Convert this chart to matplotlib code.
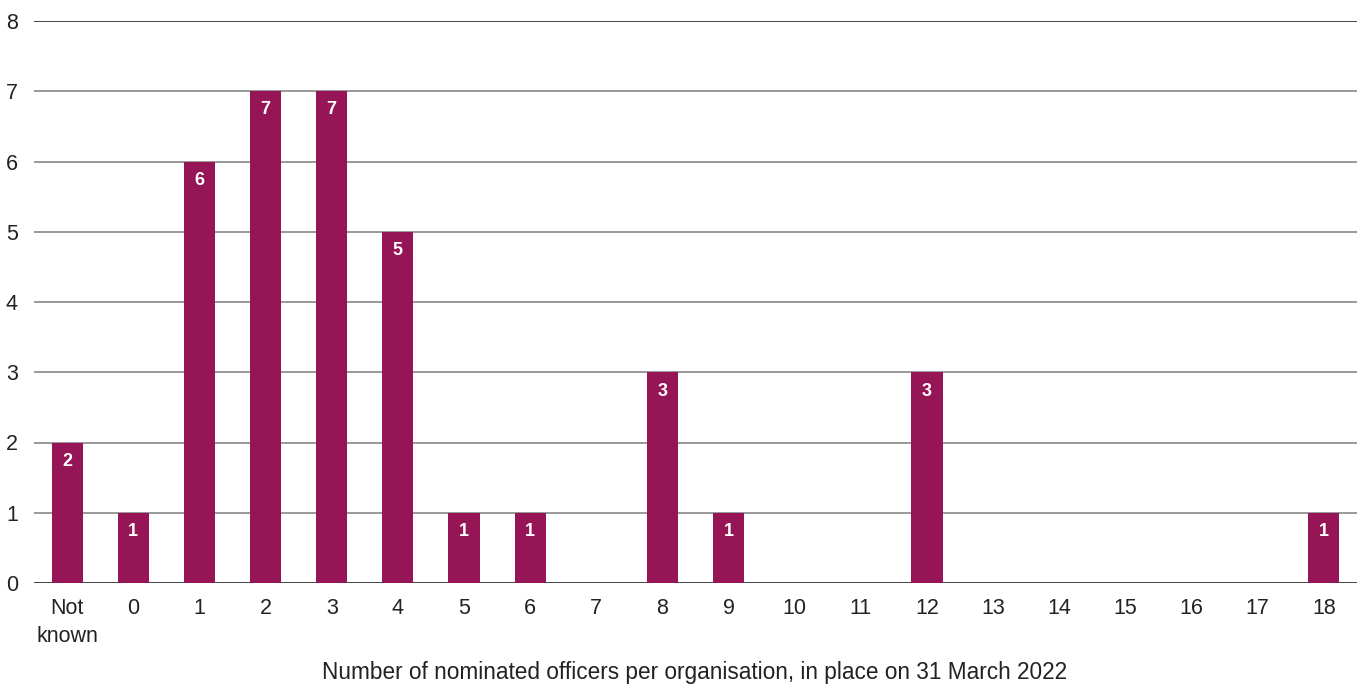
import matplotlib
matplotlib.use("Agg")
import matplotlib.pyplot as plt

categories = ["Not\nknown", "0", "1", "2", "3", "4", "5", "6", "7", "8", "9",
              "10", "11", "12", "13", "14", "15", "16", "17", "18"]
counts = [2, 1, 6, 7, 7, 5, 1, 1, 0, 3, 1, 0, 0, 3, 0, 0, 0, 0, 0, 1]
y_ticks = [0, 1, 2, 3, 4, 5, 6, 7, 8]
x_title = "Number of nominated officers per organisation, in place on 31 March 2022"

bar_color = "#961556"
text_color = "#222222"

plt.rcParams["font.family"] = ["Liberation Sans", "DejaVu Sans"]

fig = plt.figure(figsize=(13.62, 6.84), dpi=100)
ax = fig.add_axes([34 / 1362, 101 / 684, 1323 / 1362, 562 / 684])

x = list(range(len(categories)))
ax.bar(x, counts, width=0.47, color=bar_color, zorder=3)

for xi, v in zip(x, counts):
    if v > 0:
        ax.annotate(str(v), xy=(xi, v), xytext=(0, -13.5), textcoords="offset points",
                    ha="center", va="center", color="white", fontsize=13,
                    fontweight="bold", zorder=4)

ax.set_xlim(-0.5, len(categories) - 0.5)
ax.set_ylim(0, 8)
ax.set_yticks(y_ticks)
for t in y_ticks:
    if t in (0, 8):
        ax.axhline(t, color="#111111", linewidth=1.1, zorder=2)
    else:
        ax.axhline(t, color="#7d7d7d", linewidth=1.1, zorder=2)

ax.set_xticks(x)
ax.set_xticklabels(categories, linespacing=1.4)
ax.tick_params(axis="both", length=0, labelsize=15.5, colors=text_color)
ax.tick_params(axis="x", pad=11)
for lbl in ax.get_yticklabels():
    lbl.set_horizontalalignment("left")
    lbl.set_x(-34 / 1323 + 6 / 1323)
ax.tick_params(axis="y", pad=0)
for s in ax.spines.values():
    s.set_visible(False)

fig.text(695 / 1362, 1 - 672 / 684, x_title, ha="center", va="center",
         fontsize=16.3, color=text_color)

fig.savefig("out.png", dpi=100, facecolor="white")
